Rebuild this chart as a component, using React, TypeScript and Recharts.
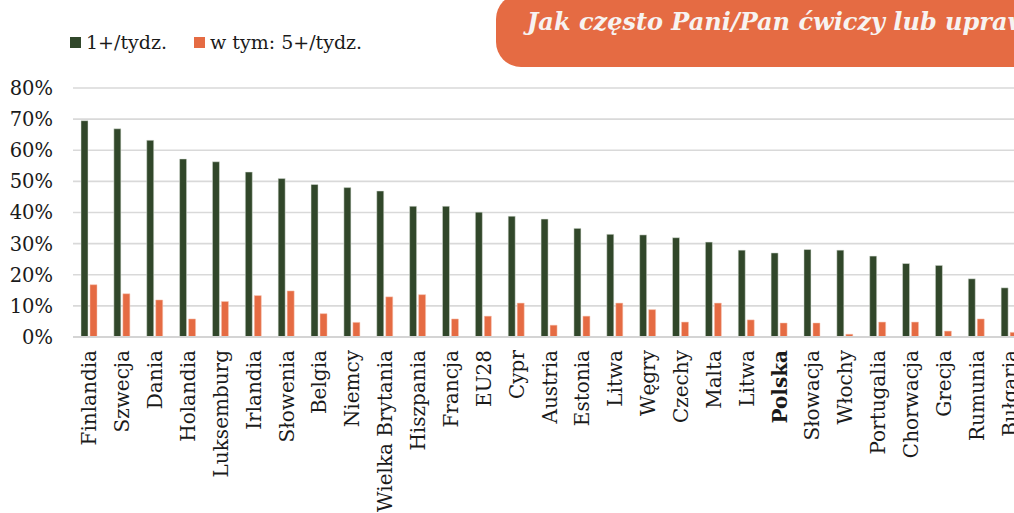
import React from 'react';
import { BarChart, Bar, XAxis, YAxis, CartesianGrid } from 'recharts';

const countries = [
  'Finlandia', 'Szwecja', 'Dania', 'Holandia', 'Luksemburg', 'Irlandia', 'Słowenia',
  'Belgia', 'Niemcy', 'Wielka Brytania', 'Hiszpania', 'Francja', 'EU28', 'Cypr',
  'Austria', 'Estonia', 'Litwa', 'Węgry', 'Czechy', 'Malta', 'Litwa', 'Polska',
  'Słowacja', 'Włochy', 'Portugalia', 'Chorwacja', 'Grecja', 'Rumunia', 'Bułgaria',
];

// share of respondents, fraction of 1
const weekly1 = [
  0.695, 0.669, 0.632, 0.572, 0.563, 0.53, 0.509, 0.49, 0.48, 0.469, 0.42, 0.42, 0.401, 0.388,
  0.379, 0.349, 0.33, 0.328, 0.319, 0.305, 0.279, 0.27, 0.281, 0.279, 0.26, 0.236, 0.23, 0.187, 0.158,
];
const weekly5 = [
  0.168, 0.139, 0.119, 0.058, 0.114, 0.133, 0.148, 0.075, 0.047, 0.129, 0.136, 0.058, 0.067, 0.109,
  0.038, 0.067, 0.109, 0.088, 0.048, 0.109, 0.055, 0.045, 0.045, 0.009, 0.048, 0.048, 0.019, 0.058, 0.015,
];
const yTicks = [0, 0.1, 0.2, 0.3, 0.4, 0.5, 0.6, 0.7, 0.8];

const GREEN = '#31472a';
const ORANGE = '#e56b43';
const FONT = '"DejaVu Serif", serif';

const data = countries.map((name, i) => ({ name, w1: weekly1[i], w5: weekly5[i] }));

function CountryTick(props: any) {
  const { x, y, payload } = props;
  const bold = payload.value === 'Polska';
  return (
    <text
      x={x}
      y={y}
      dy="0.35em"
      transform={`rotate(-90, ${x}, ${y})`}
      textAnchor="end"
      fontFamily={FONT}
      fontSize={20}
      fontWeight={bold ? 'bold' : 'normal'}
      fill="#1a1a1a"
    >
      {payload.value}
    </text>
  );
}

export default function App() {
  return (
    <div
      style={{
        position: 'fixed', left: 0, top: 0, width: 1014, height: 513,
        overflow: 'hidden', background: '#fff', fontFamily: FONT,
      }}
    >
      <div
        style={{
          position: 'absolute', left: 496, top: -6, width: 600, height: 73,
          background: ORANGE, borderRadius: 25,
        }}
      />
      <div
        style={{
          position: 'absolute', left: 527, top: 7, whiteSpace: 'nowrap',
          fontSize: 24, fontStyle: 'italic', fontWeight: 'bold', color: '#f7f3f1',
        }}
      >
        Jak często Pani/Pan ćwiczy lub uprawia sport?
      </div>

      <div
        style={{
          position: 'absolute', left: 70, top: 31, display: 'flex', alignItems: 'center',
          fontSize: 19, color: '#1a1a1a', whiteSpace: 'nowrap',
        }}
      >
        <span style={{ width: 11, height: 11, background: GREEN, display: 'inline-block', marginRight: 5 }} />
        <span>1+/tydz.</span>
        <span style={{ width: 11, height: 11, background: ORANGE, display: 'inline-block', marginLeft: 27, marginRight: 5 }} />
        <span>w tym: 5+/tydz.</span>
      </div>

      <div style={{ position: 'absolute', left: 0, top: 0 }}>
        <BarChart
          width={1030}
          height={513}
          data={data}
          margin={{ top: 88, right: 4, left: 0, bottom: 0 }}
          barSize={7}
          barGap={2}
        >
          <CartesianGrid vertical={false} stroke="#d9d9d9" strokeWidth={1.6} />
          <XAxis
            dataKey="name"
            interval={0}
            height={176}
            tickLine={false}
            tickSize={0}
            tickMargin={13}
            axisLine={{ stroke: '#d4d4d4', strokeWidth: 2 }}
            tick={<CountryTick />}
          />
          <YAxis
            width={73}
            domain={[0, 0.8]}
            ticks={yTicks}
            tickFormatter={(v: number) => `${Math.round(v * 100)}%`}
            axisLine={false}
            tickLine={false}
            tickSize={0}
            tickMargin={20}
            tick={{ fontFamily: FONT, fontSize: 19.5, fill: '#1a1a1a' }}
          />
          <Bar dataKey="w1" fill={GREEN} stroke="#dfe5dc" strokeWidth={0.5} isAnimationActive={false} />
          <Bar dataKey="w5" fill={ORANGE} stroke="#f6c6b4" strokeWidth={0.5} isAnimationActive={false} />
        </BarChart>
      </div>
    </div>
  );
}
